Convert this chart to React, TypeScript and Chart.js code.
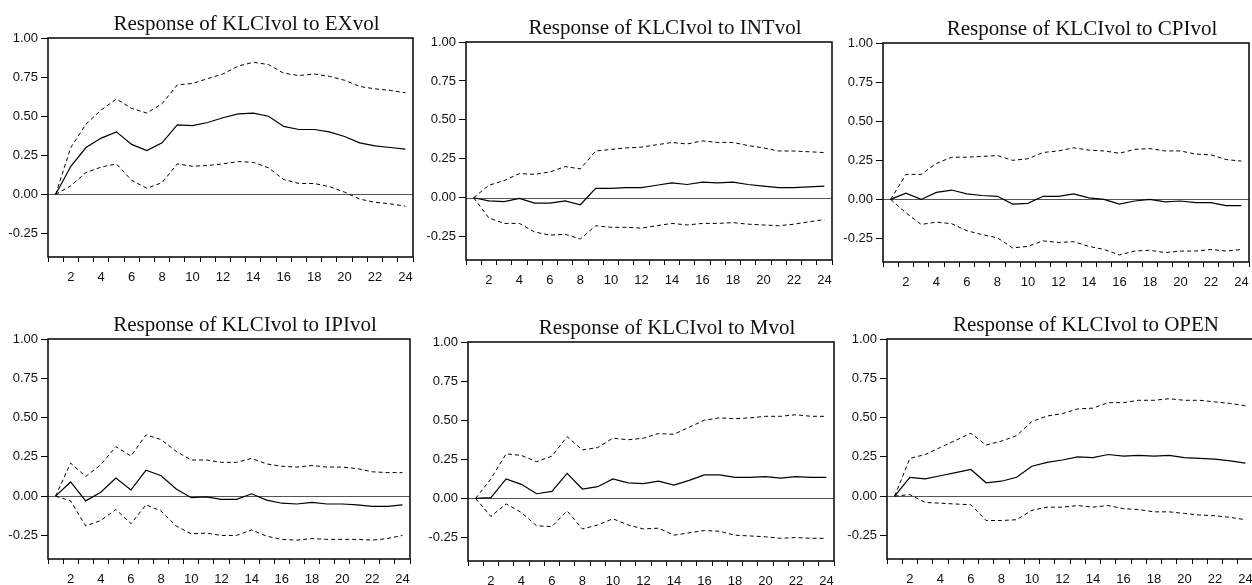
import React, { useEffect, useRef } from "react";
import { Chart, registerables } from "chart.js";

Chart.register(...registerables);

// ---------- data ----------
const periods = ["1", "2", "3", "4", "5", "6", "7", "8", "9", "10", "11", "12", "13", "14", "15", "16", "17", "18", "19", "20", "21", "22", "23", "24"];
const yTickValues = [-0.25, 0, 0.25, 0.5, 0.75, 1.0];

const titles = [
  "Response of KLCIvol to EXvol",
  "Response of KLCIvol to INTvol",
  "Response of KLCIvol to CPIvol",
  "Response of KLCIvol to IPIvol",
  "Response of KLCIvol to Mvol",
  "Response of KLCIvol to OPEN",
];

const exResp = [0, 0.18, 0.3, 0.36, 0.4, 0.32, 0.28, 0.33, 0.445, 0.44, 0.46, 0.49, 0.515, 0.52, 0.5, 0.435, 0.415, 0.415, 0.4, 0.37, 0.33, 0.31, 0.3, 0.29];
const exUpper = [0, 0.3, 0.45, 0.54, 0.61, 0.55, 0.52, 0.58, 0.7, 0.71, 0.74, 0.77, 0.82, 0.845, 0.83, 0.775, 0.76, 0.77, 0.755, 0.73, 0.69, 0.675, 0.665, 0.65];
const exLower = [0, 0.055, 0.14, 0.175, 0.195, 0.09, 0.04, 0.075, 0.195, 0.18, 0.185, 0.195, 0.21, 0.205, 0.17, 0.095, 0.07, 0.07, 0.05, 0.015, -0.03, -0.05, -0.06, -0.075];

const intResp = [0, -0.02, -0.025, -0.005, -0.035, -0.035, -0.02, -0.045, 0.06, 0.06, 0.065, 0.065, 0.08, 0.095, 0.085, 0.1, 0.095, 0.1, 0.085, 0.075, 0.065, 0.065, 0.07, 0.075];
const intUpper = [0, 0.08, 0.11, 0.155, 0.15, 0.165, 0.2, 0.185, 0.3, 0.31, 0.32, 0.325, 0.34, 0.355, 0.345, 0.365, 0.355, 0.355, 0.335, 0.32, 0.3, 0.3, 0.295, 0.29];
const intLower = [0, -0.13, -0.165, -0.165, -0.22, -0.24, -0.235, -0.265, -0.18, -0.19, -0.19, -0.195, -0.18, -0.165, -0.175, -0.165, -0.165, -0.16, -0.17, -0.175, -0.18, -0.17, -0.155, -0.14];

const cpiResp = [0, 0.04, 0.0, 0.045, 0.06, 0.035, 0.025, 0.02, -0.03, -0.025, 0.02, 0.02, 0.035, 0.01, 0.0, -0.03, -0.01, 0.0, -0.015, -0.01, -0.02, -0.02, -0.04, -0.04];
const cpiUpper = [0, 0.16, 0.16, 0.23, 0.27, 0.27, 0.275, 0.28, 0.25, 0.26, 0.3, 0.31, 0.33, 0.315, 0.31, 0.295, 0.32, 0.325, 0.31, 0.31, 0.29, 0.285, 0.255, 0.245];
const cpiLower = [0, -0.085, -0.16, -0.145, -0.155, -0.2, -0.225, -0.245, -0.31, -0.3, -0.265, -0.275, -0.27, -0.3, -0.32, -0.355, -0.33, -0.325, -0.34, -0.33, -0.33, -0.32, -0.33, -0.32];

const ipiResp = [0, 0.09, -0.03, 0.025, 0.115, 0.04, 0.165, 0.13, 0.045, -0.01, -0.005, -0.02, -0.02, 0.015, -0.025, -0.045, -0.05, -0.04, -0.05, -0.05, -0.055, -0.065, -0.065, -0.055];
const ipiUpper = [0, 0.21, 0.125, 0.2, 0.315, 0.255, 0.39, 0.36, 0.285, 0.23, 0.23, 0.215, 0.215, 0.24, 0.205, 0.19, 0.185, 0.195, 0.185, 0.185, 0.175, 0.155, 0.15, 0.15];
const ipiLower = [0, -0.03, -0.19, -0.155, -0.085, -0.175, -0.055, -0.095, -0.19, -0.24, -0.235, -0.25, -0.25, -0.215, -0.255, -0.275, -0.28, -0.27, -0.275, -0.275, -0.275, -0.28, -0.27, -0.25];

const mResp = [0, 0.005, 0.125, 0.09, 0.03, 0.045, 0.16, 0.06, 0.075, 0.125, 0.1, 0.095, 0.11, 0.085, 0.115, 0.15, 0.15, 0.135, 0.135, 0.14, 0.13, 0.14, 0.135, 0.135];
const mUpper = [0, 0.125, 0.285, 0.275, 0.235, 0.27, 0.395, 0.31, 0.325, 0.385, 0.375, 0.385, 0.415, 0.41, 0.455, 0.5, 0.515, 0.51, 0.515, 0.525, 0.525, 0.535, 0.525, 0.525];
const mLower = [0, -0.115, -0.035, -0.09, -0.175, -0.18, -0.08, -0.195, -0.17, -0.13, -0.17, -0.195, -0.19, -0.235, -0.22, -0.205, -0.21, -0.235, -0.24, -0.245, -0.255, -0.25, -0.255, -0.255];

const openResp = [0, 0.12, 0.11, 0.13, 0.15, 0.17, 0.085, 0.095, 0.12, 0.19, 0.215, 0.23, 0.25, 0.245, 0.265, 0.255, 0.26, 0.255, 0.26, 0.245, 0.24, 0.235, 0.225, 0.21];
const openUpper = [0, 0.24, 0.265, 0.31, 0.355, 0.4, 0.325, 0.35, 0.385, 0.475, 0.51, 0.525, 0.555, 0.56, 0.595, 0.595, 0.61, 0.61, 0.62, 0.61, 0.61, 0.6, 0.59, 0.575];
const openLower = [0, 0.01, -0.04, -0.045, -0.05, -0.055, -0.155, -0.155, -0.15, -0.09, -0.07, -0.07, -0.06, -0.07, -0.06, -0.08, -0.085, -0.1, -0.1, -0.11, -0.12, -0.125, -0.135, -0.15];

const responses = [exResp, intResp, cpiResp, ipiResp, mResp, openResp];
const uppers = [exUpper, intUpper, cpiUpper, ipiUpper, mUpper, openUpper];
const lowers = [exLower, intLower, cpiLower, ipiLower, mLower, openLower];

// ---------- layout (plot box edges in page pixels) ----------
const boxes = [
  { l: 48, t: 38, r: 413, b: 257 },
  { l: 466, t: 42, r: 832, b: 260 },
  { l: 883, t: 43, r: 1249, b: 262 },
  { l: 48, t: 339, r: 410, b: 559 },
  { l: 468, t: 342, r: 834, b: 561 },
  { l: 887, t: 339, r: 1253, b: 559 },
];

const AXIS_W = 48;
const AXIS_H = 30;
const PAD_T = 36;
const PAD_R = 4;
const TICK_FONT = { family: "'Liberation Sans', Arial, sans-serif", size: 13 };

function makeDecor(title: string) {
  return {
    id: "decor",
    beforeDatasetsDraw(chart: any) {
      const { ctx, chartArea } = chart;
      const y0 = chart.scales.y.getPixelForValue(0);
      ctx.save();
      ctx.strokeStyle = "#555";
      ctx.lineWidth = 1;
      ctx.beginPath();
      ctx.moveTo(chartArea.left, Math.round(y0) + 0.5);
      ctx.lineTo(chartArea.right, Math.round(y0) + 0.5);
      ctx.stroke();
      ctx.restore();
    },
    afterDraw(chart: any) {
      const { ctx, chartArea } = chart;
      ctx.save();
      ctx.strokeStyle = "#111";
      ctx.lineWidth = 1.6;
      ctx.strokeRect(chartArea.left, chartArea.top, chartArea.right - chartArea.left, chartArea.bottom - chartArea.top);
      ctx.fillStyle = "#111";
      ctx.font = "21px 'Liberation Serif', 'Times New Roman', serif";
      ctx.textAlign = "center";
      ctx.textBaseline = "alphabetic";
      ctx.fillText(title, (chartArea.left + chartArea.right) / 2 + 16, chartArea.top - 8);
      ctx.restore();
    },
  };
}

function Panel({ idx }: { idx: number }) {
  const ref = useRef<HTMLCanvasElement | null>(null);
  const box = boxes[idx];
  const width = box.r - box.l + AXIS_W + PAD_R;
  const height = box.b - box.t + PAD_T + AXIS_H;

  useEffect(() => {
    if (!ref.current) return;
    const dashed = { borderColor: "#000", borderWidth: 1, borderDash: [4, 3], pointRadius: 0, tension: 0, fill: false };
    const chart = new Chart(ref.current, {
      type: "line",
      data: {
        labels: periods,
        datasets: [
          { ...dashed, data: uppers[idx] },
          { data: responses[idx], borderColor: "#000", borderWidth: 1.2, pointRadius: 0, tension: 0, fill: false },
          { ...dashed, data: lowers[idx] },
        ],
      },
      options: {
        animation: false,
        responsive: false,
        maintainAspectRatio: false,
        layout: { padding: { left: 0, right: PAD_R, top: PAD_T, bottom: 0 } },
        plugins: { legend: { display: false }, tooltip: { enabled: false }, title: { display: false } },
        scales: {
          x: {
            type: "category",
            offset: true,
            grid: { offset: true, drawOnChartArea: false, tickLength: 5, color: "#000", tickColor: "#000", lineWidth: 1 },
            border: { display: false },
            ticks: {
              autoSkip: false,
              maxRotation: 0,
              minRotation: 0,
              padding: 8,
              color: "#111",
              font: TICK_FONT,
              callback: (_v: any, i: number) => ((i + 1) % 2 === 0 ? periods[i] : ""),
            },
            afterFit: (s: any) => {
              s.height = AXIS_H;
              s.paddingLeft = 0;
              s.paddingRight = 0;
            },
          },
          y: {
            type: "linear",
            min: -0.4,
            max: 1.0,
            afterBuildTicks: (s: any) => {
              s.ticks = yTickValues.map((v) => ({ value: v }));
            },
            grid: { drawOnChartArea: false, tickLength: 7, color: "#000", tickColor: "#000", lineWidth: 1 },
            border: { display: false },
            ticks: {
              padding: 3,
              color: "#111",
              font: TICK_FONT,
              callback: (v: any) => Number(v).toFixed(2),
            },
            afterFit: (s: any) => {
              s.width = AXIS_W;
            },
          },
        },
      } as any,
      plugins: [makeDecor(titles[idx])],
    });
    return () => chart.destroy();
  }, [idx]);

  return (
    <div
      style={{
        position: "absolute",
        left: box.l - AXIS_W,
        top: box.t - PAD_T,
        width,
        height,
      }}
    >
      <canvas ref={ref} width={width} height={height} style={{ width, height, display: "block" }} />
    </div>
  );
}

export default function App() {
  return (
    <div
      style={{
        position: "fixed",
        left: 0,
        top: 0,
        width: 1252,
        height: 585,
        background: "#fff",
        overflow: "hidden",
      }}
    >
      {titles.map((_, i) => (
        <Panel key={i} idx={i} />
      ))}
    </div>
  );
}
